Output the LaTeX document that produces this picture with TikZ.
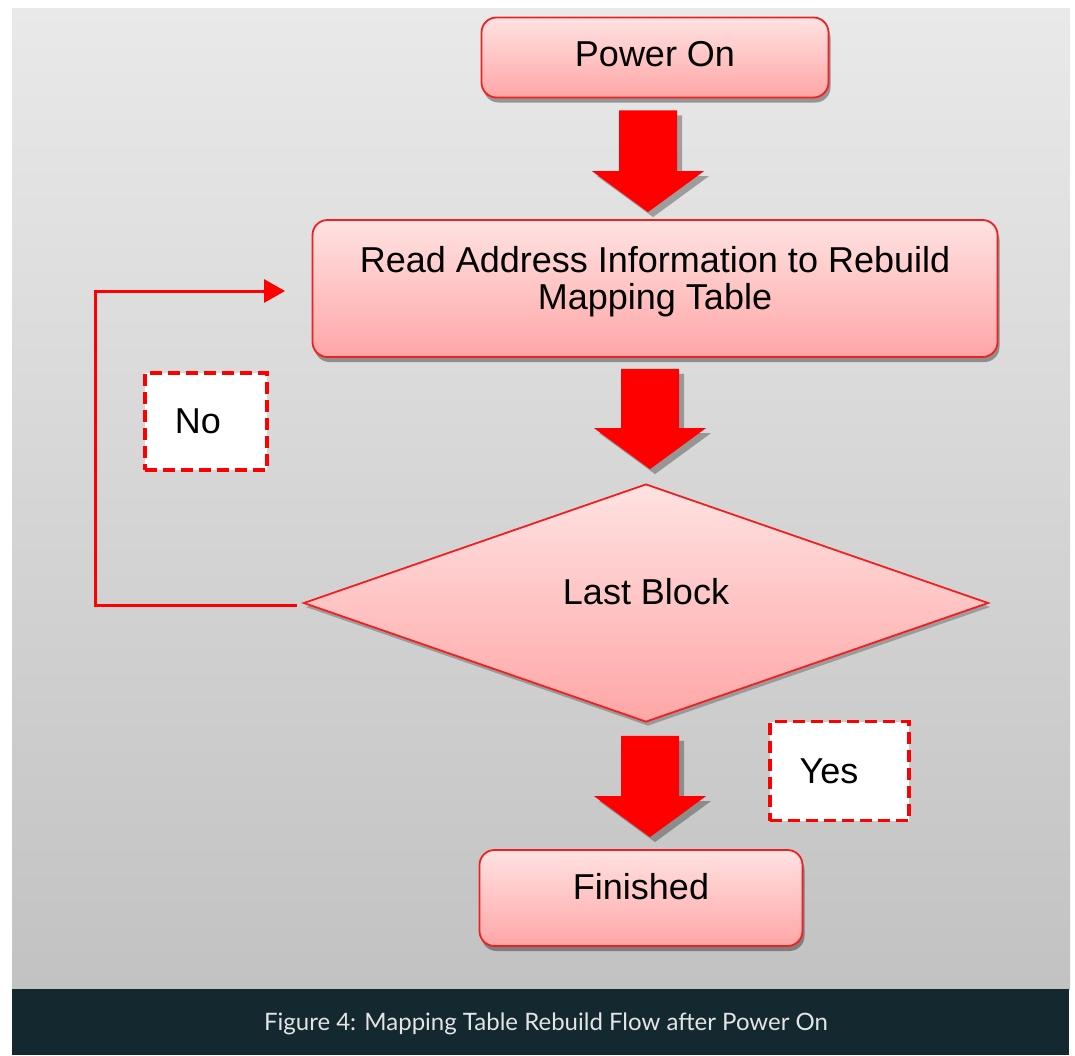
\documentclass[tikz,border=0pt]{standalone}
\usepackage{fontspec}
\setmainfont{Liberation Sans}
\newfontfamily\capfont{Lato}
\usetikzlibrary{shapes.geometric,shadows,arrows.meta,calc}
\definecolor{boxtop}{HTML}{FFE2E2}
\definecolor{boxbot}{HTML}{FFA6A6}
\definecolor{boxline}{HTML}{F02020}
\definecolor{panelTop}{HTML}{E9E9E9}
\definecolor{panelBot}{HTML}{C2C2C2}
\definecolor{capbg}{HTML}{142830}
\definecolor{captext}{HTML}{E2E4E6}
\definecolor{pureRed}{HTML}{FF0000}
\tikzset{
  procbox/.style={draw=boxline, line width=1.8pt, rounded corners=15pt,
    top color=boxtop, bottom color=boxbot, inner sep=0pt, align=center,
    font=\fontsize{36}{37}\selectfont,
    drop shadow={shadow xshift=2pt, shadow yshift=-5pt, opacity=0.35, fill=black}},
  decbox/.style={draw=boxline, line width=1.8pt, diamond, aspect=2.88,
    top color=boxtop, bottom color=boxbot, inner sep=0pt,
    font=\fontsize{36}{37}\selectfont,
    drop shadow={shadow xshift=2pt, shadow yshift=-4pt, opacity=0.25, fill=black}},
  labelbox/.style={draw=pureRed, fill=white, dash pattern=on 12pt off 6pt,
    line width=3.5pt, inner sep=0pt, font=\fontsize{36}{37}\selectfont},
  bigarrow/.style={fill=pureRed,
    drop shadow={shadow xshift=5pt, shadow yshift=-5pt, opacity=0.3, fill=black}},
  loopline/.style={draw=pureRed, line width=3pt,
    -{Triangle[length=21pt,width=23pt]}},
}
\newcommand{\blockarrow}[2]{%
  \fill[bigarrow] ($(#2|-#1)+(-29,0)$) -- ($(#2|-#1)+(29,0)$) -- ($(#2)+(29,-41)$)
    -- ($(#2)+(56,-41)$) -- (#2) -- ($(#2)+(-56,-41)$) -- ($(#2)+(-29,-41)$) -- cycle;}
\begin{document}
\begin{tikzpicture}[x=1pt,y=-1pt]
\useasboundingbox (0,0) rectangle (1075,1055);
\fill[white] (0,0) rectangle (1075,1055);
\shade[top color=panelTop, bottom color=panelBot] (12,8) rectangle (1070,989);
\fill[capbg] (12,989) rectangle (1069,1055);
\node[text=captext, font=\capfont\fontsize{24}{28}\selectfont] (cap) at (546,1024)
  {Figure 4: Mapping Table Rebuild Flow after Power On};

\node[procbox, minimum width=347pt, minimum height=80pt] (pwr) at (655,57.5) {Power On\\[-29pt]};
\node[procbox, minimum width=685pt, minimum height=137pt] (read) at (655,288.5)
  {Read Address Information to Rebuild\\Mapping Table\\[-15pt]};
\node[decbox, minimum width=685pt, minimum height=238pt] (dec) at (646,603) {};
\node[font=\fontsize{36}{37}\selectfont] (dectext) at (646,592) {Last Block};
\node[procbox, minimum width=323pt, minimum height=96pt] (fin) at (641,898)
  {Finished\\[-13pt]};

\node[labelbox, minimum width=122pt, minimum height=97pt] (no) at (206,421.5) {};
\node[font=\fontsize{36}{37}\selectfont] (notext) at (198,421) {No};
\node[labelbox, minimum width=139pt, minimum height=99pt] (yes) at (839.5,771) {};
\node[font=\fontsize{36}{37}\selectfont] (yestext) at (829,771) {Yes};

\coordinate (a1s) at ($(pwr.south)+(-7,12)$);
\coordinate (a1t) at ($(read.north)+(-7,-7)$);
\blockarrow{a1s}{a1t}
\coordinate (a2s) at ($(read.south)+(-4,11)$);
\coordinate (a2t) at ($(dec.north)+(4,-14)$);
\blockarrow{a2s}{a2t}
\coordinate (a3s) at ($(dec.south)+(4,13)$);
\coordinate (a3t) at ($(fin.north)+(9,-12)$);
\blockarrow{a3s}{a3t}

\coordinate (lc) at (95,291);
\coordinate (lend) at (285,291);
\draw[loopline] ([xshift=-6pt,yshift=-2pt]dec.west) -| (lc) -- (lend);
\end{tikzpicture}
\end{document}
